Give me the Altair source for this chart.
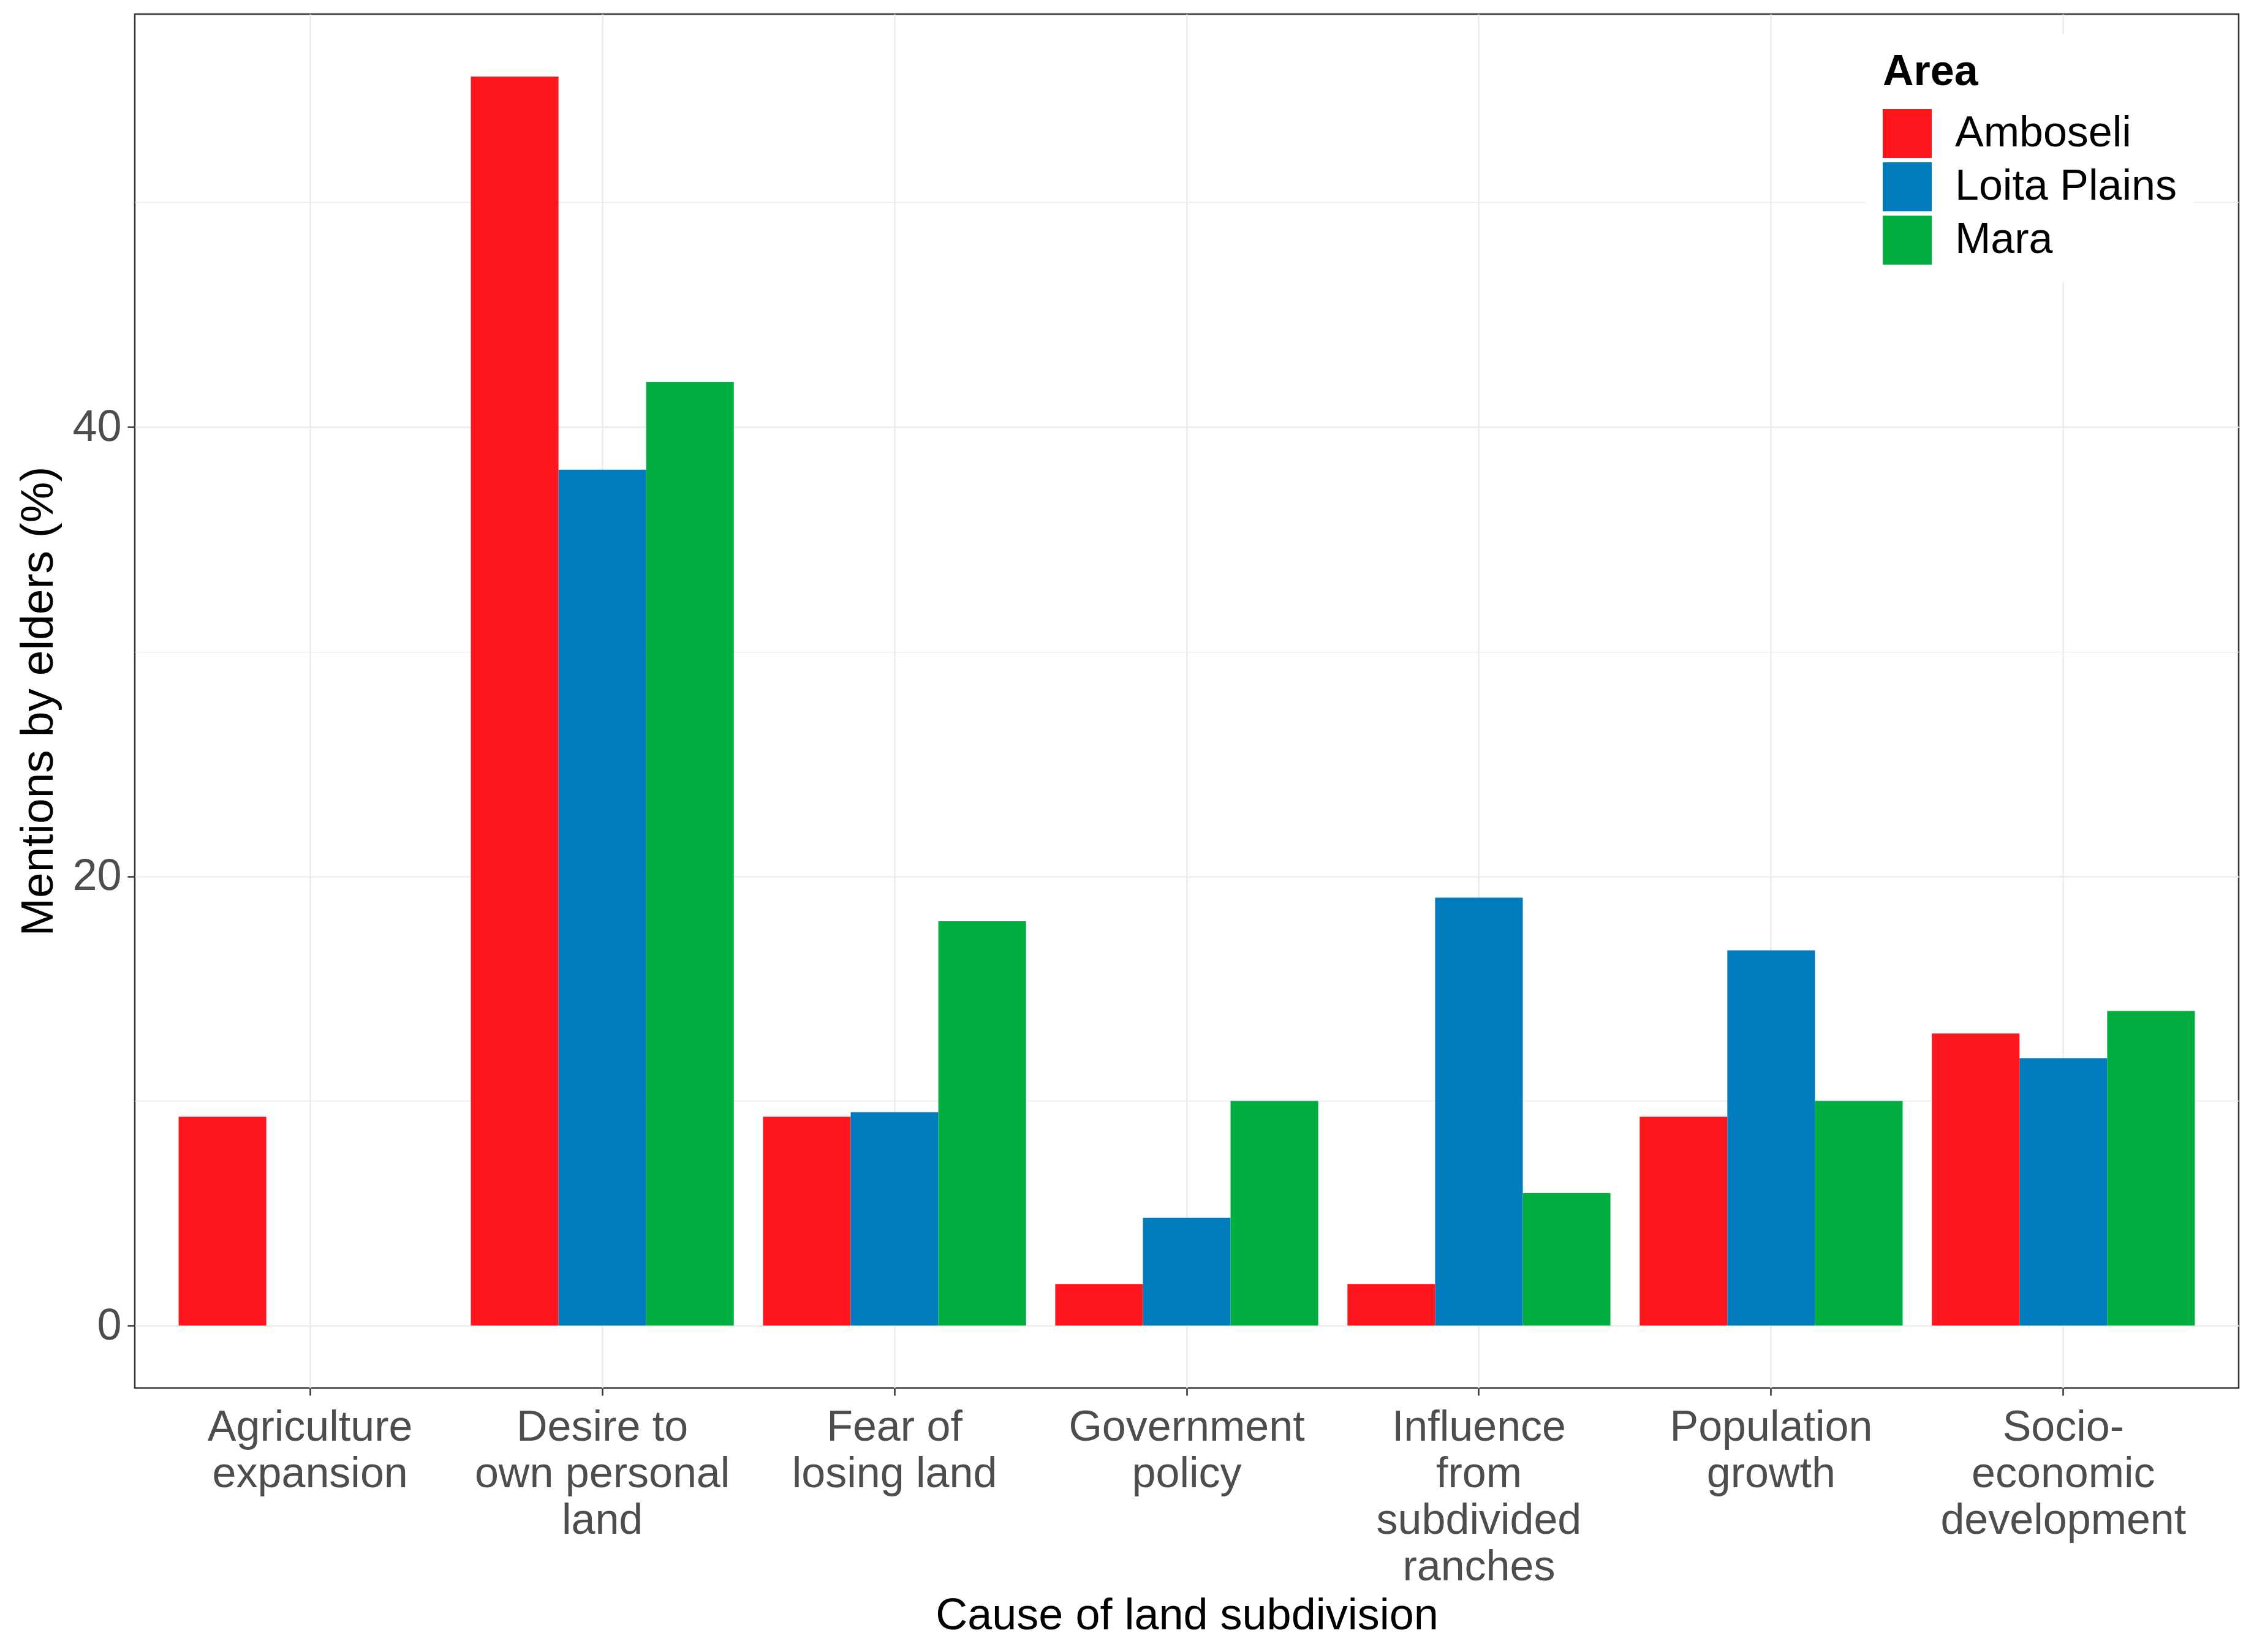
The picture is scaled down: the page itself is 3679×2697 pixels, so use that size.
import altair as alt
import pandas as pd
import json

categories = [
    "Agriculture expansion",
    "Desire to own personal land",
    "Fear of losing land",
    "Government policy",
    "Influence from subdivided ranches",
    "Population growth",
    "Socio-economic development",
]
label_lines = [
    ["Agriculture", "expansion"],
    ["Desire to", "own personal", "land"],
    ["Fear of", "losing land"],
    ["Government", "policy"],
    ["Influence", "from", "subdivided", "ranches"],
    ["Population", "growth"],
    ["Socio-", "economic", "development"],
]
areas = ["Amboseli", "Loita Plains", "Mara"]
colors = ["#FE161C", "#007BBB", "#00AE40"]

amboseli = [9.3, 55.6, 9.3, 1.85, 1.85, 9.3, 13.0]
loita = [None, 38.1, 9.5, 4.8, 19.05, 16.7, 11.9]
mara = [None, 42.0, 18.0, 10.0, 5.9, 10.0, 14.0]

rows = []
for area, vals in zip(areas, [amboseli, loita, mara]):
    for c, v in zip(categories, vals):
        if v is not None:
            rows.append({"cause": c, "area": area, "value": v})
df = pd.DataFrame(rows)

lab_map = json.dumps({c: l for c, l in zip(categories, label_lines)})

FONT = "Liberation Sans"

chart = alt.Chart(df).mark_bar().encode(
    x=alt.X("cause:N", sort=categories,
            scale=alt.Scale(domain=categories, paddingInner=0.1, paddingOuter=0.15),
            axis=alt.Axis(title="Cause of land subdivision", labelAngle=0,
                          labelExpr=lab_map + "[datum.label]",
                          labelFontSize=70, labelLineHeight=76, labelColor="#4D4D4D",
                          labelFont=FONT, labelPadding=18, labelBaseline="top",
                          labelLimit=0, labelOverlap=False,
                          tickSize=12, tickColor="#333333", tickWidth=2.5,
                          domain=False, grid=True, gridColor="#EBEBEB", gridWidth=2.5,
                          bandPosition=0.5,
                          titleFont=FONT, titleFontSize=72, titleFontWeight="normal",
                          titleColor="black", titleBaseline="alphabetic", titleY=393)),
    xOffset=alt.XOffset("area:N", sort=areas,
                        scale=alt.Scale(domain=areas, paddingInner=0, paddingOuter=0)),
    y=alt.Y("value:Q",
            scale=alt.Scale(domain=[-2.78, 58.38], nice=False, zero=False),
            axis=alt.Axis(title="Mentions by elders (%)", values=[0, 10, 20, 30, 40, 50],
                          labelExpr="datum.value % 20 === 0 ? datum.label : ''",
                          labelFontSize=72, labelColor="#4D4D4D", labelFont=FONT,
                          labelPadding=10,
                          tickSize=12, tickColor="#333333", tickWidth=2.5,
                          tickOpacity={"condition": {"test": "datum.value % 20 === 0", "value": 1}, "value": 0},
                          domain=False, grid=True, gridColor="#EBEBEB",
                          gridWidth={"condition": {"test": "datum.value % 20 === 0", "value": 2.5}, "value": 1.3},
                          titleFont=FONT, titleFontSize=75, titleFontWeight="normal",
                          titleColor="black", titlePadding=16)),
    color=alt.Color("area:N", sort=areas,
                    scale=alt.Scale(domain=areas, range=colors),
                    legend=alt.Legend(title="Area", orient="none", legendX=2825, legendY=33,
                                      titleFont=FONT, titleFontSize=70, titleFontWeight="bold",
                                      titleColor="black", titlePadding=24,
                                      labelFont=FONT, labelFontSize=70, labelColor="black",
                                      labelLimit=0,
                                      labelOffset=38, symbolType="square", symbolSize=6400,
                                      symbolStrokeWidth=0, symbolOpacity=1, rowPadding=7,
                                      fillColor="white", padding=28)),
).properties(
    width=3434, height=2243, background="white",
    padding={"left": 17, "top": 15, "right": 10, "bottom": 10},
).configure_view(
    stroke="#333333", strokeWidth=2.5
)

chart.save("out.html", embed_options={"renderer": "svg", "actions": False})
